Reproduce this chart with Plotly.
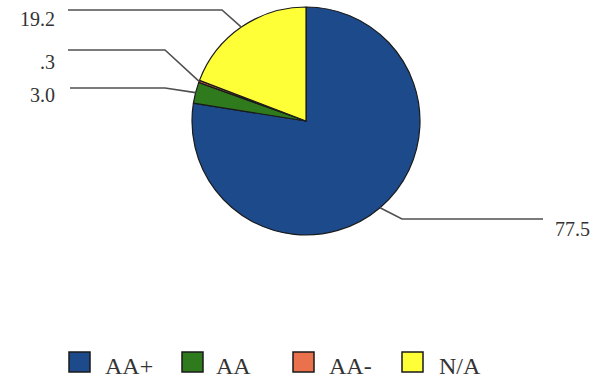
import math
import plotly.graph_objects as go

# ---- data ----
categories = ["AA+", "AA", "AA-", "N/A"]
values = [77.5, 3.0, 0.3, 19.2]
value_labels = ["77.5", "3.0", ".3", "19.2"]
colors = ["#1d4a8b", "#2e7a1d", "#e9714b", "#ffff38"]

# ---- layout constants (pixels) ----
W, H = 601, 379
CX, CY, R = 306, 121, 114
FONT = "Liberation Serif"
TXT = "#333333"
LINE = "#505050"


def px(x):
    return x / W


def py(y):
    return 1 - y / H


# leader-line geometry per category: (line end x, elbow x, line y, text x, text y, anchor)
leaders = {
    "AA+": (543, 402, 219, 553, 229, "left"),
    "AA": (70, 165, 88, 57, 95, "right"),
    "AA-": (68, 165, 50, 57, 62, "right"),
    "N/A": (68, 222, 10, 57, 19, "right"),
}

fig = go.Figure(
    go.Pie(
        labels=categories,
        values=values,
        sort=False,
        direction="clockwise",
        rotation=0,
        textinfo="none",
        hoverinfo="label+value",
        marker=dict(colors=colors, line=dict(color="#1a1a1a", width=1.2)),
        domain=dict(x=[px(CX - R), px(CX + R)], y=[py(CY + R), py(CY - R)]),
        showlegend=False,
    )
)

shapes = []
annotations = []
total = sum(values)
cum = 0.0
for cat, v, lab in zip(categories, values, value_labels):
    mid = (cum + v / 2) / total * 2 * math.pi
    cum += v
    ax = CX + R * math.sin(mid)
    ay = CY - R * math.cos(mid)
    ex, elx, ly, tx, ty, anc = leaders[cat]
    shapes.append(
        dict(
            type="path",
            xref="paper",
            yref="paper",
            path=f"M {px(ax)},{py(ay)} L {px(elx)},{py(ly)} L {px(ex)},{py(ly)}",
            line=dict(color=LINE, width=1.6),
        )
    )
    annotations.append(
        dict(
            x=px(tx), y=py(ty), xref="paper", yref="paper",
            text=lab, showarrow=False, xanchor=anc, yanchor="middle",
            font=dict(family=FONT, size=20, color=TXT),
        )
    )

# ---- legend (manual) ----
leg_sq_x = [69, 182, 293, 402]
leg_txt_x = [103, 214, 327, 437]
LEG_Y0, LEG_Y1 = 352, 372
for cat, col, sx, tx in zip(categories, colors, leg_sq_x, leg_txt_x):
    shapes.append(
        dict(
            type="rect", xref="paper", yref="paper",
            x0=px(sx), x1=px(sx + 21), y0=py(LEG_Y1), y1=py(LEG_Y0),
            fillcolor=col, line=dict(color="#1a1a1a", width=1.5),
        )
    )
    annotations.append(
        dict(
            x=px(tx), y=py(366), xref="paper", yref="paper",
            text=cat, showarrow=False, xanchor="left", yanchor="middle",
            font=dict(family=FONT, size=24, color=TXT),
        )
    )

fig.update_layout(
    width=W,
    height=H,
    margin=dict(l=0, r=0, t=0, b=0),
    paper_bgcolor="white",
    plot_bgcolor="white",
    shapes=shapes,
    annotations=annotations,
)

fig.write_html("out.html")
